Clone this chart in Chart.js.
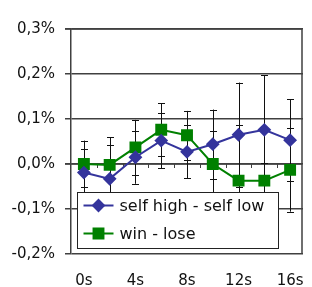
<!DOCTYPE html>
<html>
<head>
<meta charset="utf-8">
<script src="https://cdn.jsdelivr.net/npm/chart.js@4"></script>
<style>
  html, body { margin: 0; padding: 0; background: #fff; }
  canvas { display: block; }
</style>
</head>
<body>
<canvas id="chart" width="312" height="287"></canvas>
<script>
// time after onset
const timeLabels = ["0s", "2s", "4s", "6s", "8s", "10s", "12s", "14s", "16s"]

// self high - self low (in %)
const selfDiff = [-0.019, -0.033, 0.015, 0.052, 0.027, 0.044, 0.065, 0.076, 0.053]
const selfErr = [0.053, 0.076, 0.059, 0.061, 0.059, 0.077, 0.116, 0.121, 0.091]

// win - lose (in %)
const winLose = [0.0, -0.002, 0.037, 0.076, 0.064, 0.0, -0.037, -0.037, -0.013]
const winLoseErr = [0.052, 0.062, 0.061, 0.059, 0.054, 0.074, 0.123, 0.04, 0.093]

const yMin = -0.2
const yMax = 0.3
const yStep = 0.1

const FONT = "'DejaVu Sans', sans-serif"
const INK = "#111"
const GRID = "#404040"

// error bars, frame and the small ticks on the zero line
const decorations = {
  id: "decorations",
  beforeDatasetsDraw(chart) {
    const { ctx, chartArea, scales: { x, y } } = chart
    ctx.save()
    ctx.strokeStyle = GRID
    ctx.lineWidth = 1.5

    // frame: top and right, plus the zero line
    const r = chartArea.right - 1
    const t = y.getPixelForValue(yMax)
    const y0 = y.getPixelForValue(0)
    ctx.beginPath()
    ctx.moveTo(chartArea.left - 6, t)
    ctx.lineTo(r, t)
    ctx.lineTo(r, chartArea.bottom)
    ctx.moveTo(chartArea.left - 6, y0)
    ctx.lineTo(r, y0)
    ctx.stroke()

    // ticks between categories on the zero line
    ctx.lineWidth = 1
    ctx.beginPath()
    for (let i = 0; i < timeLabels.length - 1; i++) {
      const px = Math.round((x.getPixelForValue(i) + x.getPixelForValue(i + 1)) / 2) + 0.5
      ctx.moveTo(px, y0)
      ctx.lineTo(px, y0 + 4)
    }
    ctx.stroke()

    // error bars
    ctx.strokeStyle = "#111"
    chart.data.datasets.forEach((ds) => {
      ds.errors.forEach((e, i) => {
        const px = Math.round(x.getPixelForValue(i)) + 0.5
        const top = y.getPixelForValue(ds.data[i] + e)
        const bot = y.getPixelForValue(ds.data[i] - e)
        ctx.beginPath()
        ctx.moveTo(px, top)
        ctx.lineTo(px, bot)
        ctx.moveTo(px - 3.5, Math.round(top) + 0.5)
        ctx.lineTo(px + 3.5, Math.round(top) + 0.5)
        ctx.moveTo(px - 3.5, Math.round(bot) + 0.5)
        ctx.lineTo(px + 3.5, Math.round(bot) + 0.5)
        ctx.stroke()
      })
    })
    ctx.restore()
  },
}

// boxed legend sitting inside the plot
const boxLegend = {
  id: "boxLegend",
  afterDatasetsDraw(chart) {
    const { ctx, chartArea } = chart
    const left = chartArea.left + 6.5
    const top = 192.5
    const w = 201
    const h = 56
    ctx.save()
    ctx.fillStyle = "#fff"
    ctx.fillRect(left, top, w, h)
    ctx.strokeStyle = "#222"
    ctx.lineWidth = 1
    ctx.strokeRect(left, top, w, h)

    chart.data.datasets.forEach((ds, i) => {
      const cy = top + 13 + i * 28
      ctx.strokeStyle = ds.borderColor
      ctx.lineWidth = 2
      ctx.beginPath()
      ctx.moveTo(left + 6, cy)
      ctx.lineTo(left + 36, cy)
      ctx.stroke()
      ctx.fillStyle = ds.borderColor
      Chart.helpers.drawPoint(ctx, {
        pointStyle: ds.pointStyle,
        radius: ds.pointRadius,
        borderWidth: 1,
      }, left + 21, cy)
      ctx.fillStyle = INK
      ctx.font = "16px " + FONT
      ctx.textBaseline = "middle"
      ctx.textAlign = "left"
      ctx.fillText(ds.label, left + 42, cy + 1)
    })
    ctx.restore()
  },
}

new Chart(document.getElementById("chart"), {
  type: "line",
  data: {
    labels: timeLabels,
    datasets: [
      {
        label: "self high - self low",
        data: selfDiff,
        errors: selfErr,
        borderColor: "#34349c",
        backgroundColor: "#34349c",
        borderWidth: 2,
        pointStyle: "rectRot",
        pointRadius: 5.5,
        pointBackgroundColor: "#34349c",
        pointBorderColor: "#34349c",
        tension: 0,
      },
      {
        label: "win - lose",
        data: winLose,
        errors: winLoseErr,
        borderColor: "#008000",
        backgroundColor: "#008000",
        borderWidth: 2,
        pointStyle: "rect",
        pointRadius: 7,
        pointBackgroundColor: "#008000",
        pointBorderColor: "#008000",
        tension: 0,
      },
    ],
  },
  options: {
    responsive: false,
    animation: false,
    layout: { padding: { top: 29, right: 1, left: 0, bottom: 0 } },
    plugins: {
      legend: { display: false },
      tooltip: { enabled: false },
    },
    scales: {
      x: {
        offset: true,
        grid: {
          display: true,
          drawOnChartArea: false,
          drawTicks: true,
          tickLength: 18,
          color: "rgba(0,0,0,0)",
        },
        border: { display: false },
        ticks: {
          padding: 0,
          autoSkip: false,
          maxRotation: 0,
          minRotation: 0,
          color: INK,
          font: { family: FONT, size: 15 },
          callback: function (val, i) {
            return i % 2 ? "" : this.getLabelForValue(val)
          },
        },
        afterFit: (scale) => {
          scale.height = 33
        },
      },
      y: {
        min: yMin,
        max: yMax,
        grid: {
          color: GRID,
          lineWidth: 1.5,
          tickLength: 6,
        },
        border: { color: GRID, width: 1.5 },
        ticks: {
          stepSize: yStep,
          padding: 10,
          color: INK,
          font: { family: FONT, size: 15 },
          callback: (v) => v.toFixed(1).replace(".", ",") + "%",
        },
        afterFit: (scale) => {
          scale.width = 71
        },
      },
    },
  },
  plugins: [decorations, boxLegend],
})
</script>
</body>
</html>
